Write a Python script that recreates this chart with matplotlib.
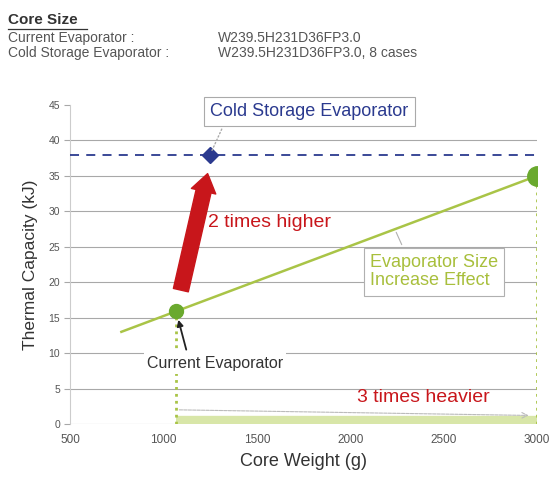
import matplotlib.pyplot as plt
from matplotlib.patches import FancyArrowPatch

plt.rcParams['font.family'] = ['Liberation Sans', 'DejaVu Sans']

# Core weight (g) vs thermal capacity (kJ)
current_point = (1070, 16.0)
cold_storage_point = (1250, 38.0)
large_core_point = (3000, 35.0)
trend_weights = [775, 3000]
trend_capacity = [13.0, 35.0]

x_ticks = [500, 1000, 1500, 2000, 2500, 3000]
y_ticks = [0, 5, 10, 15, 20, 25, 30, 35, 40, 45]

current_label = 'Current Evaporator :'
current_size = 'W239.5H231D36FP3.0'
cold_label = 'Cold Storage Evaporator :'
cold_size = 'W239.5H231D36FP3.0, 8 cases'

GREEN_LINE = '#a9c447'
GREEN_MARK = '#6aa92e'
BLUE = '#2b3a8f'
RED = '#c8161b'
GRID = '#a8a8a8'

fig = plt.figure(figsize=(5.53, 4.80), dpi=100)
ax = fig.add_axes([0.1266, 0.1167, 0.8445, 0.6646])

# header block
fig.text(0.015, 0.958, 'Core Size', fontsize=11, fontweight='bold', color='#333333',
         va='center')
fig.add_artist(plt.Line2D([0.015, 0.158], [0.940, 0.940], color='#333333', lw=0.9))
fig.text(0.015, 0.921, current_label, fontsize=10, color='#555555', va='center')
fig.text(0.394, 0.921, current_size, fontsize=10, color='#555555', va='center')
fig.text(0.015, 0.890, cold_label, fontsize=10, color='#555555', va='center')
fig.text(0.394, 0.890, cold_size, fontsize=10, color='#555555', va='center')

ax.set_xlim(500, 3000)
ax.set_ylim(0, 45)
ax.set_xticks(x_ticks)
ax.set_yticks(y_ticks)
ax.tick_params(axis='x', labelsize=8.5, colors='#555555', length=0, pad=7)
ax.tick_params(axis='y', labelsize=7.5, colors='#555555', length=4, color=GRID, pad=3)
for y in y_ticks[1:-1]:
    ax.axhline(y, color=GRID, lw=0.8, zorder=0)
ax.axhline(0, color=GRID, lw=0.8, zorder=0)
for side in ['top', 'right', 'bottom']:
    ax.spines[side].set_visible(False)
ax.spines['left'].set_color('#cccccc')

ax.set_xlabel('Core Weight (g)', fontsize=13, color='#333333', labelpad=5)
ax.set_ylabel('Thermal Capacity (kJ)', fontsize=12.5, color='#333333', labelpad=8)

# size increase trend
ax.plot(trend_weights, trend_capacity, color=GREEN_LINE, lw=1.8, zorder=3)

# cold storage reference level
ax.plot([500, large_core_point[0]], [cold_storage_point[1]] * 2, color=BLUE,
        lw=1.3, ls=(0, (5, 4)), zorder=3)

# vertical drop lines to the weight axis
for x, y in [current_point, large_core_point]:
    ax.plot([x, x], [0, y], color=GREEN_LINE, lw=2, ls=(0, (1, 1.5)), zorder=3)

ax.plot(*current_point, marker='o', ms=10, color=GREEN_MARK, zorder=5)
ax.plot(*large_core_point, marker='o', ms=14, color=GREEN_MARK, zorder=5)
ax.plot(*cold_storage_point, marker='D', ms=8.5, color=BLUE, zorder=5)

# thermal capacity increase arrow
ax.add_patch(FancyArrowPatch((current_point[0] + 20, current_point[1] + 2.5),
                             (cold_storage_point[0] - 10, cold_storage_point[1] - 2.3),
                             arrowstyle='simple,head_width=1.8,head_length=1.3,tail_width=1.1',
                             mutation_scale=10, color=RED, zorder=4))
ax.text(1239, 28.4, '2 times higher', fontsize=14, color=RED, va='center', ha='left')

# weight increase band
ax.plot([current_point[0], large_core_point[0]], [0.6, 0.6], color='#d8e6a8', lw=6,
        solid_capstyle='butt', zorder=2)
ax.annotate('', xy=(large_core_point[0] - 30, 1.2), xytext=(current_point[0], 2.0),
            arrowprops=dict(arrowstyle='->', color='#bbbbbb', lw=0.8, ls=(0, (3, 1))))
ax.text(2036, 3.8, '3 times heavier', fontsize=14, color=RED, va='center', ha='left')

# callouts
ax.annotate('Cold Storage Evaporator', xy=cold_storage_point, xytext=(1250, 44.1),
            fontsize=13, color=BLUE, va='center', ha='left', annotation_clip=False,
            bbox=dict(boxstyle='square,pad=0.35', fc='white', ec='#aaaaaa', lw=0.8),
            arrowprops=dict(arrowstyle='-', color='#aaaaaa', lw=1, ls=':',
                            relpos=(0.08, 0)), zorder=6)
ax.annotate('Evaporator Size\nIncrease Effect', xy=(2240, 27.4), xytext=(2106, 21.5),
            fontsize=13, color='#a8bf3c', va='center', ha='left', linespacing=1.1,
            bbox=dict(boxstyle='square,pad=0.35', fc='white', ec='#b0b0b0', lw=0.8),
            arrowprops=dict(arrowstyle='-', color='#b0b0b0', lw=0.8,
                            relpos=(0.28, 1)), zorder=6)
ax.annotate('Current Evaporator', xy=(current_point[0] + 10, current_point[1] - 1.3),
            xytext=(912, 8.6), fontsize=11.5, color='#333333', va='center', ha='left',
            bbox=dict(boxstyle='square,pad=0.2', fc='white', ec='none'),
            arrowprops=dict(arrowstyle='-|>', color='#222222', lw=1.3,
                            relpos=(0.3, 1), shrinkA=2, shrinkB=0, mutation_scale=9),
            zorder=6)

fig.savefig('out.png', dpi=100, facecolor='white')
